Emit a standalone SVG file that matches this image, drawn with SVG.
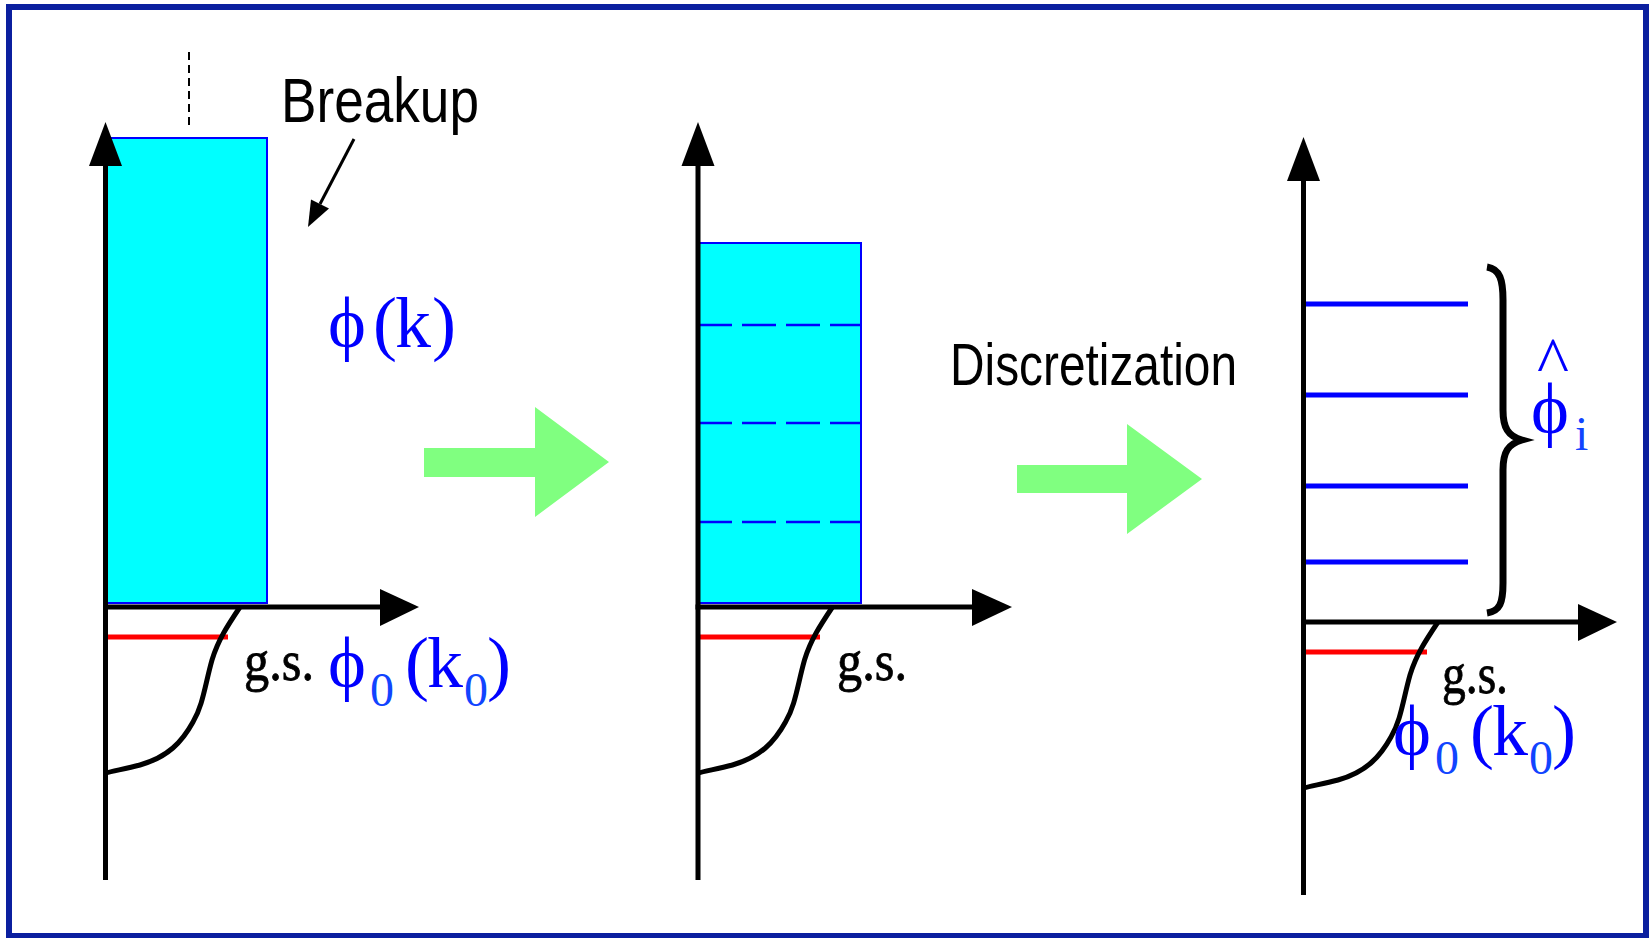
<svg xmlns="http://www.w3.org/2000/svg" width="1650" height="938" viewBox="0 0 1650 938">
<style>
.frame{fill:#ffffff;stroke:#0b1f9f;stroke-width:6}
.axis{stroke:#000;stroke-width:5;fill:none}
.head{fill:#000;stroke:none}
.box{fill:#00ffff;stroke:#0000ff;stroke-width:2}
.cut{stroke:#0000ff;stroke-width:2.5;stroke-dasharray:34 10;fill:none}
.lvl{stroke:#0000ff;stroke-width:5;fill:none}
.gs{stroke:#ff0000;stroke-width:5;fill:none}
.wave{stroke:#000;stroke-width:5;fill:none}
.big{fill:#80ff80;stroke:none}
.lab{font-family:"Liberation Sans",Arial,sans-serif;fill:#000}
.math{font-family:"Liberation Serif","Times New Roman",serif;fill:#0000ff}
.sub{font-family:"Liberation Serif","Times New Roman",serif;fill:#1144ff}
.gst{font-family:"Liberation Serif","Times New Roman",serif;fill:#000;stroke:#000;stroke-width:0.8}
</style>
<rect class="frame" x="9" y="7" width="1637" height="929"/>

<g id="panel1">
  <rect class="box" x="105" y="138" width="162" height="465"/>
  <line x1="189" y1="52" x2="189" y2="128" stroke="#000" stroke-width="2" stroke-dasharray="8 5"/>
  <line class="gs" x1="105" y1="637" x2="228" y2="637"/>
  <path class="wave" d="M240,607 C228,625 218,640 212,660 C205,685 203,705 193,722 C182,742 168,757 140,765 C125,769 112,771 106,773"/>
  <text class="lab" x="281" y="122" font-size="63" textLength="198" lengthAdjust="spacingAndGlyphs">Breakup</text>
  <text class="math" y="347" font-size="72"><tspan x="328">ϕ</tspan><tspan x="373">(</tspan><tspan x="395">k</tspan><tspan x="432">)</tspan></text>
  <text class="gst" x="244" y="680" font-size="56" textLength="70" lengthAdjust="spacingAndGlyphs">g.s.</text>
  <text class="math" y="687" font-size="72"><tspan x="328">ϕ</tspan><tspan x="405">(</tspan><tspan x="427">k</tspan><tspan x="487">)</tspan></text>
  <text class="sub" y="706" font-size="48"><tspan x="370">0</tspan><tspan x="464">0</tspan></text>
</g>

<g id="panel2">
  <rect class="box" x="698" y="243" width="163" height="360"/>
  <line class="cut" x1="698" y1="325" x2="861" y2="325"/>
  <line class="cut" x1="698" y1="423" x2="861" y2="423"/>
  <line class="cut" x1="698" y1="522" x2="861" y2="522"/>
  <line class="gs" x1="698" y1="637" x2="820" y2="637"/>
  <path class="wave" d="M832.5,607 C820.5,625 810.5,640 804.5,660 C797.5,685 795.5,705 785.5,722 C774.5,742 760.5,757 732.5,765 C717.5,769 704.5,771 698.5,773"/>
  <text class="gst" x="837" y="680" font-size="56" textLength="70" lengthAdjust="spacingAndGlyphs">g.s.</text>
  <text class="lab" x="950" y="385" font-size="59" textLength="287" lengthAdjust="spacingAndGlyphs">Discretization</text>
</g>

<g id="panel3">
  <line class="lvl" x1="1303" y1="304" x2="1468" y2="304"/>
  <line class="lvl" x1="1303" y1="395" x2="1468" y2="395"/>
  <line class="lvl" x1="1303" y1="486" x2="1468" y2="486"/>
  <line class="lvl" x1="1303" y1="562" x2="1468" y2="562"/>
  <path d="M1487,267 C1500,269 1503,280 1503,300 L1503,410 C1503,428 1508,436 1522,440 C1508,444 1503,452 1503,470 L1503,583 C1503,603 1500,611 1487,613" stroke="#000" stroke-width="7" fill="none"/>
  <text class="math" x="1537" y="384" font-size="68">^</text>
  <text class="math" x="1531" y="433" font-size="72">ϕ</text>
  <text class="sub" x="1575" y="450" font-size="48">i</text>
  <line class="gs" x1="1303" y1="652" x2="1427" y2="652"/>
  <path class="wave" d="M1438,622 C1426,640 1416,655 1410,675 C1403,700 1401,720 1391,737 C1380,757 1366,772 1338,780 C1323,784 1310,786 1304,788"/>
  <text class="gst" x="1442" y="693" font-size="56" textLength="66" lengthAdjust="spacingAndGlyphs">g.s.</text>
  <text class="math" y="755" font-size="72"><tspan x="1393">ϕ</tspan><tspan x="1470">(</tspan><tspan x="1492">k</tspan><tspan x="1552">)</tspan></text>
  <text class="sub" y="774" font-size="48"><tspan x="1435">0</tspan><tspan x="1529">0</tspan></text>
</g>

<g id="connectors">
  <line class="axis" x1="105.5" y1="160" x2="105.5" y2="880"/>
  <polygon class="head" points="105.5,122 89,166 122,166"/>
  <line class="axis" x1="103" y1="607" x2="385" y2="607"/>
  <polygon class="head" points="419,607 380,589 380,626"/>

  <line class="axis" x1="698" y1="160" x2="698" y2="880"/>
  <polygon class="head" points="698,122 681.5,166 714.5,166"/>
  <line class="axis" x1="695.5" y1="607" x2="977" y2="607"/>
  <polygon class="head" points="1012,607 972,589 972,626"/>

  <line class="axis" x1="1303.5" y1="175" x2="1303.5" y2="895"/>
  <polygon class="head" points="1303.5,137 1287,181 1320,181"/>
  <line class="axis" x1="1301" y1="622" x2="1583" y2="622"/>
  <polygon class="head" points="1617,622 1578,604 1578,641"/>

  <line x1="354" y1="139" x2="320" y2="204" stroke="#000" stroke-width="3"/>
  <polygon class="head" points="308,227 329,208.6 311,199.4"/>

  <polygon class="big" points="424,448 535,448 535,407 609,462 535,517 535,477 424,477"/>
  <polygon class="big" points="1017,465 1127,465 1127,424 1202,479 1127,534 1127,493 1017,493"/>
</g>
</svg>
